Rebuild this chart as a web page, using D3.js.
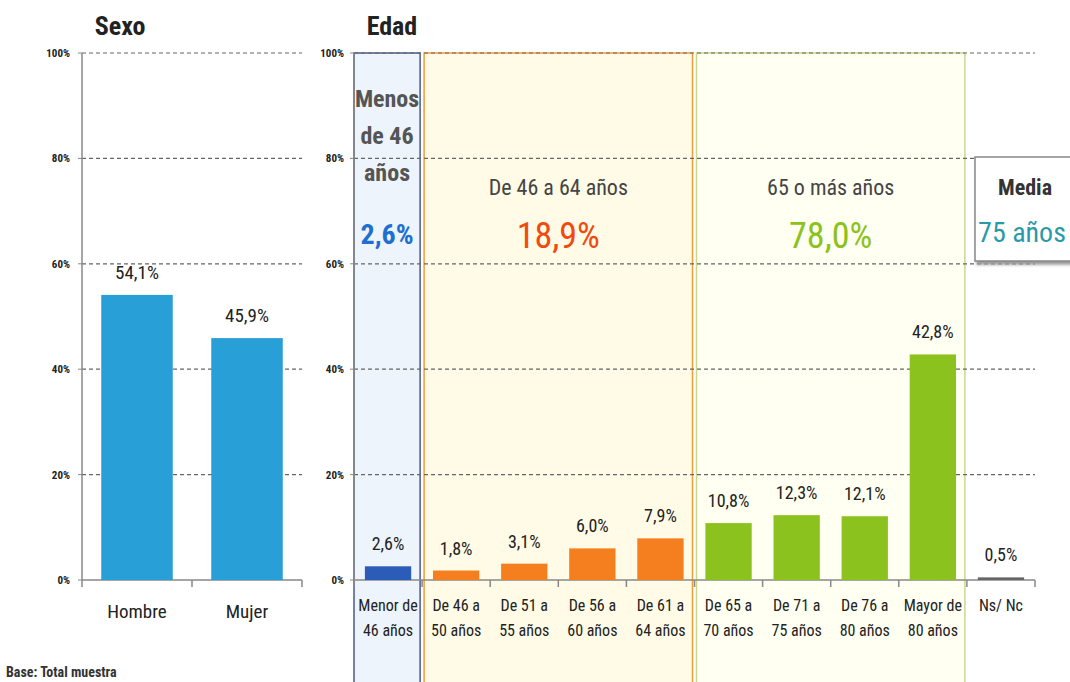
<!DOCTYPE html>
<html>
<head>
<meta charset="utf-8">
<script src="https://cdn.jsdelivr.net/npm/d3@7"></script>
<style>
  body { margin: 0; background: #fff; }
  svg text { font-family: "Liberation Sans Narrow", "Roboto Condensed", "Open Sans", sans-serif; }
</style>
</head>
<body>
<svg id="chart" width="1070" height="682"></svg>
<script>
// Sexo
var sexCats = ["Hombre", "Mujer"];
var sexVals = [54.1, 45.9];

// Edad
var ageCats = ["Menor de|46 años", "De 46 a|50 años", "De 51 a|55 años", "De 56 a|60 años", "De 61 a|64 años",
               "De 65 a|70 años", "De 71 a|75 años", "De 76 a|80 años", "Mayor de|80 años", "Ns/ Nc"];
var ageVals = [2.6, 1.8, 3.1, 6.0, 7.9, 10.8, 12.3, 12.1, 42.8, 0.5];
var ageGroup = ["low", "mid", "mid", "mid", "mid", "high", "high", "high", "high", "nsnc"];

// groups summary
var groupKeys = ["low", "mid", "high"];
var groupTitles = [["Menos", "de 46", "años"], ["De 46 a 64 años"], ["65 o más años"]];
var groupTotals = ["2,6%", "18,9%", "78,0%"];

var yTicks = [0, 20, 40, 60, 80, 100];
var mediaLabel = "Media";
var mediaValue = "75 años";

var fmt = v => d3.format(".1f")(v).replace(".", ",") + "%";

var svg = d3.select("#chart");
var y = d3.scaleLinear().domain([0, 100]).range([580, 53]);

var barColor = { low: "#2a5cb8", mid: "#f57f1f", high: "#8cc21e", nsnc: "#666666" };
var boxFill = { low: "#eef4fb", mid: "#fffbe6", high: "#fffff2" };
var boxStroke = { low: "#4a5a8a", mid: "#f39a3a", high: "#c9d88c" };
var totalColor = { low: "#1f6fd0", mid: "#f04a10", high: "#8cc21c" };

function drawPanel(x0, x1, cats, vals, colorOf, tickLabelX) {
    var x = d3.scaleBand().domain(cats).range([x0, x1]);
    var g = svg.append("g");

    // gridlines
    g.selectAll("line.grid").data(yTicks.filter(d => d > 0)).enter()
        .append("line")
        .attr("x1", x0).attr("x2", x1)
        .attr("y1", d => y(d)).attr("y2", d => y(d))
        .attr("stroke", "#666").attr("stroke-width", 1.2)
        .attr("stroke-dasharray", "4,3");

    // y labels
    g.selectAll("text.ytick").data(yTicks).enter()
        .append("text")
        .attr("x", tickLabelX).attr("y", d => y(d) + 4)
        .attr("text-anchor", "end")
        .attr("font-size", 11).attr("font-weight", "bold")
        .attr("fill", "#222")
        .text(d => d + "%");

    g.selectAll("line.ytk").data(yTicks).enter()
        .append("line")
        .attr("x1", x0 - 4).attr("x2", x0)
        .attr("y1", d => y(d)).attr("y2", d => y(d))
        .attr("stroke", "#888");

    // axes lines
    g.append("line").attr("x1", x0).attr("x2", x0).attr("y1", y(100)).attr("y2", y(0))
        .attr("stroke", "#888").attr("stroke-width", 1.5);
    g.append("line").attr("x1", x0).attr("x2", x1).attr("y1", y(0)).attr("y2", y(0))
        .attr("stroke", "#888").attr("stroke-width", 1.5);
    var bounds = cats.map(c => x(c)).concat([x1]);
    g.selectAll("line.xtk").data(bounds).enter()
        .append("line")
        .attr("x1", d => d).attr("x2", d => d)
        .attr("y1", y(0)).attr("y2", y(0) + 7)
        .attr("stroke", "#888").attr("stroke-width", 1.5);

    return { x: x, g: g };
}

// ---- Sexo panel
var sp = drawPanel(82, 302, sexCats, sexVals, null, 70);
var sxb = d3.scaleBand().domain(sexCats).range([82, 302]).paddingInner(0.35).paddingOuter(0.175);

sp.g.selectAll("rect.bar").data(sexCats).enter()
    .append("rect")
    .attr("x", d => sxb(d)).attr("width", sxb.bandwidth())
    .attr("y", (d, i) => y(sexVals[i])).attr("height", (d, i) => y(0) - y(sexVals[i]))
    .attr("fill", "#289fd6");

sp.g.selectAll("text.val").data(sexCats).enter()
    .append("text")
    .attr("x", d => sxb(d) + sxb.bandwidth() / 2)
    .attr("y", (d, i) => y(sexVals[i]) - 16)
    .attr("text-anchor", "middle").attr("font-size", 19).attr("fill", "#222")
    .text((d, i) => fmt(sexVals[i]));

sp.g.selectAll("text.cat").data(sexCats).enter()
    .append("text")
    .attr("x", d => sxb(d) + sxb.bandwidth() / 2)
    .attr("y", 618)
    .attr("text-anchor", "middle").attr("font-size", 19).attr("fill", "#222")
    .text(d => d);

svg.append("text").attr("x", 120).attr("y", 35).attr("text-anchor", "middle")
    .attr("font-size", 26).attr("font-weight", "bold").attr("fill", "#222").text("Sexo");

// ---- Edad panel
var ax0 = 354, ax1 = 1035;
var slot = d3.scaleBand().domain(ageCats).range([ax0, ax1]);
var axb = d3.scaleBand().domain(ageCats).range([ax0, ax1]).paddingInner(0.32).paddingOuter(0.16);

// group boxes (behind)
var boxes = svg.append("g");
groupKeys.forEach(function (k, gi) {
    var members = ageCats.filter((c, i) => ageGroup[i] === k);
    var bx0 = slot(members[0]) + (gi === 0 ? 0 : 2);
    var bx1 = slot(members[members.length - 1]) + slot.bandwidth() - 2;
    boxes.append("rect")
        .attr("x", bx0).attr("y", y(100))
        .attr("width", bx1 - bx0).attr("height", 700 - y(100))
        .attr("fill", boxFill[k]).attr("stroke", boxStroke[k]).attr("stroke-width", 1.5);

    var cx = (bx0 + bx1) / 2;
    var lines = groupTitles[gi];
    if (lines.length > 1) {
        lines.forEach(function (t, li) {
            boxes.append("text").attr("x", cx).attr("y", 107 + li * 37)
                .attr("text-anchor", "middle").attr("font-size", 24).attr("font-weight", "bold")
                .attr("fill", "#555").text(t);
        });
        boxes.append("text").attr("x", cx).attr("y", 244)
            .attr("text-anchor", "middle").attr("font-size", 28).attr("font-weight", "bold")
            .attr("fill", totalColor[k]).text(groupTotals[gi]);
    } else {
        boxes.append("text").attr("x", cx).attr("y", 195)
            .attr("text-anchor", "middle").attr("font-size", 22)
            .attr("fill", "#444").text(lines[0]);
        boxes.append("text").attr("x", cx).attr("y", 248)
            .attr("text-anchor", "middle").attr("font-size", 36)
            .attr("fill", totalColor[k]).text(groupTotals[gi]);
    }
});

var ep = drawPanel(ax0, ax1, ageCats, ageVals, null, 344);

ep.g.selectAll("rect.bar").data(ageCats).enter()
    .append("rect")
    .attr("x", d => axb(d)).attr("width", axb.bandwidth())
    .attr("y", (d, i) => y(ageVals[i])).attr("height", (d, i) => y(0) - y(ageVals[i]))
    .attr("fill", (d, i) => barColor[ageGroup[i]]);

ep.g.selectAll("text.val").data(ageCats).enter()
    .append("text")
    .attr("x", d => axb(d) + axb.bandwidth() / 2)
    .attr("y", (d, i) => y(ageVals[i]) - 16)
    .attr("text-anchor", "middle").attr("font-size", 18).attr("fill", "#222")
    .text((d, i) => fmt(ageVals[i]));

ep.g.selectAll("text.cat").data(ageCats).enter()
    .append("text")
    .attr("x", d => axb(d) + axb.bandwidth() / 2)
    .attr("y", 611)
    .attr("text-anchor", "middle").attr("font-size", 16).attr("fill", "#222")
    .each(function (d) {
        var parts = d.split("|");
        d3.select(this).selectAll("tspan").data(parts).enter()
            .append("tspan")
            .attr("x", axb(d) + axb.bandwidth() / 2)
            .attr("dy", (p, i) => i === 0 ? 0 : 25)
            .text(p => p);
    });

svg.append("text").attr("x", 392).attr("y", 35).attr("text-anchor", "middle")
    .attr("font-size", 26).attr("font-weight", "bold").attr("fill", "#222").text("Edad");

// Media box
var defs = svg.append("defs");
var f = defs.append("filter").attr("id", "sh").attr("x", "-10%").attr("y", "-10%").attr("width", "130%").attr("height", "130%");
f.append("feDropShadow").attr("dx", 2).attr("dy", 3).attr("stdDeviation", 1.5).attr("flood-color", "#999");
svg.append("rect").attr("x", 975).attr("y", 157).attr("width", 110).attr("height", 104)
    .attr("fill", "#fff").attr("stroke", "#888").attr("stroke-width", 1.5).attr("filter", "url(#sh)");
svg.append("text").attr("x", 1025).attr("y", 195).attr("text-anchor", "middle")
    .attr("font-size", 22).attr("font-weight", "bold").attr("fill", "#333").text(mediaLabel);
svg.append("text").attr("x", 1022).attr("y", 242).attr("text-anchor", "middle")
    .attr("font-size", 28).attr("fill", "#2a9aa8").text(mediaValue);

svg.append("text").attr("x", 6).attr("y", 677)
    .attr("font-size", 14).attr("font-weight", "bold").attr("fill", "#333").text("Base: Total muestra");
</script>
</body>
</html>
